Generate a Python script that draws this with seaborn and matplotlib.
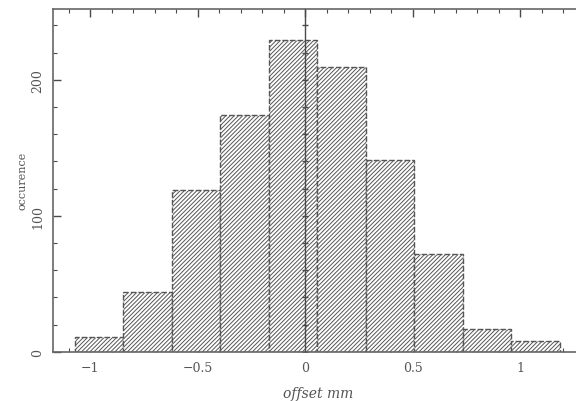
import numpy as np
import matplotlib
matplotlib.use("Agg")
import matplotlib.pyplot as plt
import seaborn as sns

# bin edges (mm) and counts
bin_edges = [-1.070, -0.845, -0.619, -0.394, -0.168, 0.058, 0.283, 0.509, 0.735, 0.960, 1.186]
counts = [11, 44, 119, 174, 229, 209, 141, 72, 17, 8]
x_ticks = [-1, -0.5, 0, 0.5, 1]
y_ticks = [0, 100, 200]

sns.set_style("ticks")
plt.rcParams['font.family'] = ['DejaVu Serif']
plt.rcParams['hatch.linewidth'] = 0.7

ink = '#4a4a4a'

fig = plt.figure(figsize=(5.76, 4.02), dpi=100)
ax = fig.add_axes([52.7 / 576, (402 - 352.7) / 402, (584.5 - 52.7) / 576, (352.7 - 10) / 402])

centers = [(a + b) / 2 for a, b in zip(bin_edges[:-1], bin_edges[1:])]
sns.histplot(x=centers, weights=counts, bins=bin_edges, ax=ax, color='white',
             edgecolor='#555555', hatch='////////', linewidth=1.0, alpha=1)
for p in ax.patches:
    p.set_linestyle((0, (4, 1.5)))

# vertical line through zero with its own little ticks
ax.axvline(0, color=ink, lw=1.0, zorder=3)
ax.plot([0] * 13, np.arange(0, 260, 20), ls='none', marker='_', ms=4, color=ink, mew=1)

ax.set_xlim(-1.1735, 1.3)
ax.set_ylim(0, 252)
ax.set_xticks(x_ticks)
ax.set_xticklabels(['\u22121', '\u22120.5', '0', '0.5', '1'])
ax.set_yticks(y_ticks)
ax.set_xticks(np.arange(-1.1, 1.31, 0.1), minor=True)
ax.set_yticks(np.arange(0, 252, 20), minor=True)

ax.tick_params(which='both', direction='in', top=True, right=True, color=ink,
               labelcolor='#555555', labelsize=9)
ax.tick_params(which='major', length=6, width=1)
ax.tick_params(which='minor', length=3, width=0.8)
ax.tick_params(axis='x', pad=7)
ax.tick_params(axis='y', pad=6, labelrotation=90)
for lbl in ax.get_yticklabels():
    lbl.set_va('center')

for s in ax.spines.values():
    s.set_color('#666666')
    s.set_linewidth(1.2)

ax.set_xlabel('offset mm', fontsize=10, style='italic', color='#555555', labelpad=8)
ax.set_ylabel('occurence', fontsize=8, color='#555555', labelpad=3)

fig.savefig('out.png', dpi=100)
